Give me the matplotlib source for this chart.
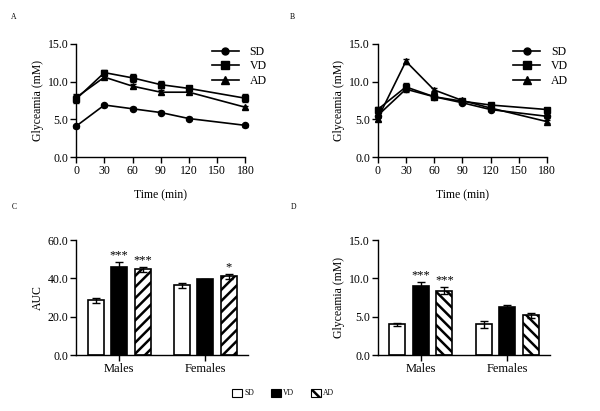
import numpy as np
import matplotlib
matplotlib.use("Agg")
import matplotlib.pyplot as plt
from matplotlib.patches import Patch
from matplotlib.lines import Line2D

plt.rcParams['font.family'] = ['Liberation Serif', 'DejaVu Serif']
plt.rcParams['hatch.linewidth'] = 1.8
plt.rcParams['axes.linewidth'] = 1.0

# ---- data ----
time = [0, 30, 60, 90, 120, 180]
groups = ['SD', 'VD', 'AD']

# panel A (males, glycaemia curve)
a_sd = [4.1, 6.9, 6.4, 5.9, 5.1, 4.2]
a_vd = [7.7, 11.2, 10.5, 9.6, 9.1, 7.8]
a_ad = [7.9, 10.6, 9.4, 8.6, 8.6, 6.6]
a_sd_err = [0.2, 0.2, 0.2, 0.2, 0.2, 0.2]
a_vd_err = [0.5, 0.3, 0.5, 0.5, 0.3, 0.5]
a_ad_err = [0.4, 0.3, 0.3, 0.3, 0.3, 0.2]

# panel B (females, glycaemia curve)
b_sd = [5.5, 9.0, 8.0, 7.2, 6.3, 5.4]
b_vd = [6.3, 9.3, 8.0, 7.4, 6.9, 6.3]
b_ad = [5.1, 12.7, 8.9, 7.5, 6.5, 4.7]
b_sd_err = [0.3, 0.4, 0.2, 0.2, 0.2, 0.2]
b_vd_err = [0.3, 0.5, 0.3, 0.2, 0.2, 0.2]
b_ad_err = [0.3, 0.3, 0.2, 0.2, 0.2, 0.2]

# panel C (AUC)
sexes = ['Males', 'Females']
c_mean = {'SD': [28.5, 36.3], 'VD': [45.8, 39.5], 'AD': [44.7, 41.0]}
c_err = {'SD': [1.2, 1.5], 'VD': [3.0, 0.4], 'AD': [1.2, 1.5]}
c_stars = {'SD': ['', ''], 'VD': ['***', ''], 'AD': ['***', '*']}

# panel D (fasting glycaemia)
d_mean = {'SD': [4.0, 4.0], 'VD': [9.0, 6.3], 'AD': [8.4, 5.2]}
d_err = {'SD': [0.2, 0.5], 'VD': [0.5, 0.2], 'AD': [0.5, 0.3]}
d_stars = {'SD': ['', ''], 'VD': ['***', ''], 'AD': ['***', '']}

fig = plt.figure(figsize=(6, 4.11), dpi=100)

def style(ax):
    for s in ['top', 'right']:
        ax.spines[s].set_visible(False)
    ax.tick_params(direction='out', length=4, width=1, labelsize=8.5, pad=1.5)

markers = {'SD': 'o', 'VD': 's', 'AD': '^'}
msize = {'SD': 4.4, 'VD': 4.8, 'AD': 4.6}

def line_panel(rect, series, errs, legend_xy):
    ax = fig.add_axes(rect)
    handles = []
    for g in groups:
        ax.errorbar(time, series[g], yerr=errs[g], color='black', marker=markers[g],
                    markersize=msize[g], lw=1.2, capsize=2, elinewidth=0.8,
                    clip_on=False, zorder=3)
        handles.append(Line2D([], [], color='black', marker=markers[g],
                              markersize=msize[g] + 0.6, lw=1.2))
    ax.set_xlim(0, 180)
    ax.set_ylim(0, 15)
    ax.set_xticks([0, 30, 60, 90, 120, 150, 180])
    ax.set_yticks([0, 5, 10, 15])
    ax.set_yticklabels(['0.0', '5.0', '10.0', '15.0'])
    ax.set_xlabel('Time (min)', fontsize=8.5, labelpad=9)
    ax.set_ylabel('Glyceamia (mM)', fontsize=8.5, labelpad=3)
    style(ax)
    fig.legend(handles, groups, loc='upper left', bbox_to_anchor=legend_xy, frameon=False,
               fontsize=8.5, numpoints=1, handlelength=2.3, handletextpad=0.9,
               labelspacing=0.2, borderpad=0, borderaxespad=0)
    return ax

line_panel([0.127, 0.618, 0.282, 0.275],
           {'SD': a_sd, 'VD': a_vd, 'AD': a_ad},
           {'SD': a_sd_err, 'VD': a_vd_err, 'AD': a_ad_err}, (0.353, 0.888))
line_panel([0.6295, 0.618, 0.282, 0.275],
           {'SD': b_sd, 'VD': b_vd, 'AD': b_ad},
           {'SD': b_sd_err, 'VD': b_vd_err, 'AD': b_ad_err}, (0.855, 0.888))

fills = {'SD': 'white', 'VD': 'black', 'AD': 'white'}
offsets = {'SD': -0.273, 'VD': 0.0, 'AD': 0.273}

def bar_panel(rect, means, errs, stars, ymax, yticks, ylabels, ylabel, hatch):
    ax = fig.add_axes(rect)
    x = np.arange(len(sexes))
    for g in groups:
        ax.bar(x + offsets[g], means[g], width=0.186, color=fills[g], edgecolor='black',
               linewidth=1.2, hatch=hatch if g == 'AD' else None, zorder=2)
        ax.errorbar(x + offsets[g], means[g], yerr=errs[g], fmt='none', ecolor='black',
                    elinewidth=1, capsize=3, capthick=1, zorder=3)
        for xi, m, e, s in zip(x, means[g], errs[g], stars[g]):
            if s:
                ax.annotate(s, (xi + offsets[g], m + e), xytext=(0, 0.3),
                            textcoords='offset points', ha='center', va='bottom', fontsize=9)
    ax.set_xlim(-0.5, 1.5)
    ax.set_ylim(0, ymax)
    ax.set_xticks(x)
    ax.set_xticklabels(sexes)
    ax.set_yticks(yticks)
    ax.set_yticklabels(ylabels)
    ax.set_ylabel(ylabel, fontsize=8.5, labelpad=3)
    style(ax)
    ax.tick_params(axis='x', labelsize=9)
    return ax

bar_panel([0.127, 0.136, 0.287, 0.280], c_mean, c_err, c_stars, 60,
          [0, 20, 40, 60], ['0.0', '20.0', '40.0', '60.0'], 'AUC', '///')
bar_panel([0.6295, 0.136, 0.2875, 0.280], d_mean, d_err, d_stars, 15,
          [0, 5, 10, 15], ['0.0', '5.0', '10.0', '15.0'], 'Glyceamia (mM)', '\\\\\\')

for lab, xy in zip(['A', 'B', 'C', 'D'], [(0.023, 0.958), (0.487, 0.958), (0.023, 0.497), (0.49, 0.497)]):
    fig.text(xy[0], xy[1], lab, fontsize=5.5, ha='center', va='center')

leg_handles = [Patch(facecolor='white', edgecolor='black', linewidth=0.8),
               Patch(facecolor='black', edgecolor='black', linewidth=0.8),
               Patch(facecolor='white', edgecolor='black', linewidth=0.8, hatch='\\\\\\')]
fig.legend(leg_handles, groups, loc='center', bbox_to_anchor=(0.472, 0.044), ncol=3,
           frameon=False, fontsize=5.5, handlelength=1.3, handleheight=1.3,
           handletextpad=0.3, columnspacing=2.2, borderpad=0)

fig.savefig('out.png', dpi=100)
